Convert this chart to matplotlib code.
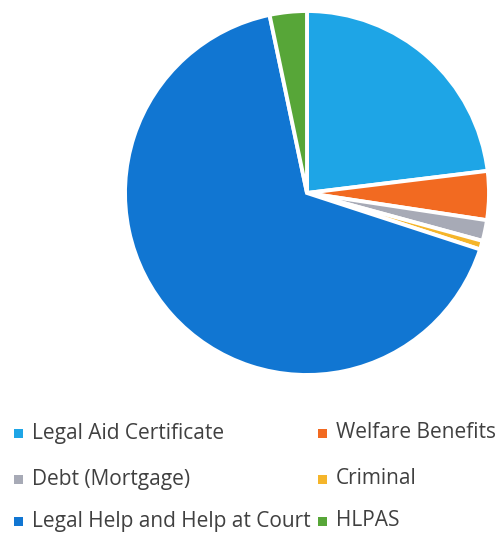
import matplotlib
matplotlib.use("Agg")
import matplotlib.pyplot as plt
from matplotlib.patches import Rectangle

labels = ["Legal Aid Certificate", "Welfare Benefits", "Debt (Mortgage)",
          "Criminal", "Legal Help and Help at Court", "HLPAS"]
values = [23.06, 4.33, 1.85, 0.78, 66.68, 3.3]
colors = ["#1EA5E6", "#F26A21", "#A7AAB6", "#F5B52A", "#1176D2", "#57A638"]

W, H = 500, 533
fig = plt.figure(figsize=(W / 100, H / 100), dpi=100)
ax = fig.add_axes([0.25, 0.2964, 0.728, 0.683])
ax.pie(values, colors=colors, startangle=90, counterclock=False, radius=1.0,
       wedgeprops=dict(edgecolor="white", linewidth=2.8))
ax.set_xlim(-1, 1)
ax.set_ylim(-1, 1)
ax.set_aspect("equal")
ax.axis("off")

row_y = [433, 479, 521]
col_x = [14, 318]
for i, (lab, c) in enumerate(zip(labels, colors)):
    r, k = divmod(i, 2)
    x, y = col_x[k], row_y[r]
    fig.patches.append(Rectangle((x / W, 1 - (y + 4.5) / H), 9 / W, 9 / H,
                                 transform=fig.transFigure, facecolor=c,
                                 edgecolor="none"))
    fig.text((x + 18) / W, 1 - y / H, lab, ha="left", va="center",
             fontsize=15, family="Open Sans", color="#404040")
fig.savefig("out.png", dpi=100)
